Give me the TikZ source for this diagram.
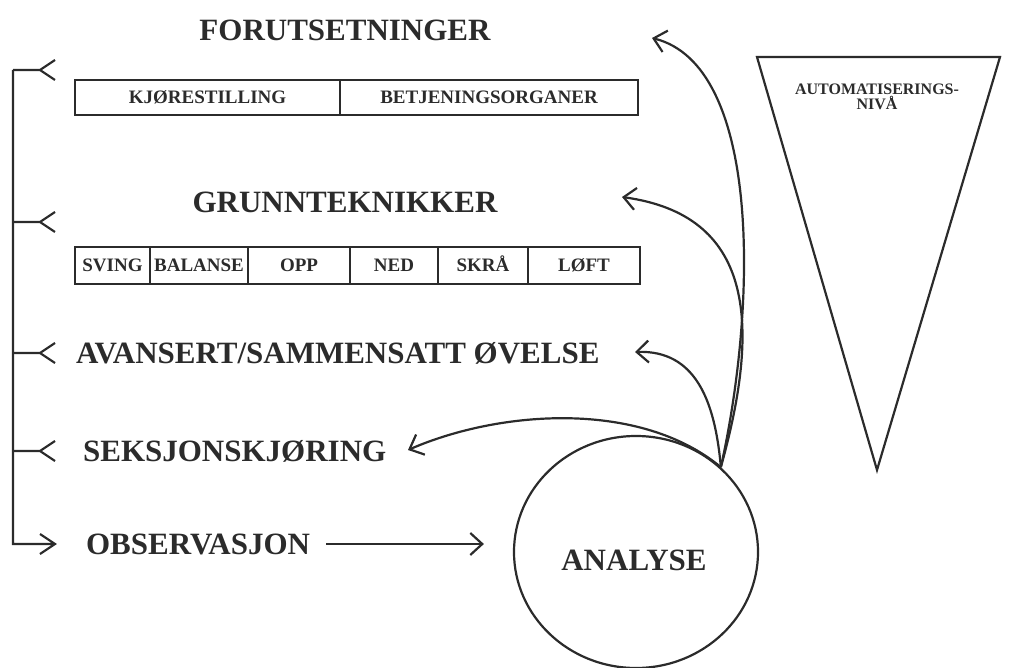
\documentclass[tikz,border=0pt]{standalone}
\usepackage{fontspec}
\setmainfont{Liberation Serif}
\usetikzlibrary{arrows.meta,shapes.geometric,calc}
\definecolor{ink}{HTML}{2B2B2B}
\begin{document}
\begin{tikzpicture}[x=1pt,y=-1pt,
  line width=2.2pt, draw=ink, text=ink,
  big/.style={font=\fontsize{31}{31}\selectfont\bfseries, inner sep=0pt, text height=20.5pt, text depth=0pt},
  cell/.style={draw=ink, line width=2.2pt, inner sep=0pt, font=\fontsize{19}{19}\selectfont\bfseries, text height=12.6pt, text depth=0pt},
  arr/.style={draw=ink, line width=2.2pt, -{Straight Barb[length=12pt,width=22pt,line width=2.2pt]}},
  chev/.style={draw=ink, line width=2.2pt, line join=miter}]
\useasboundingbox (0,0) rectangle (1015,668);

% titles and labels
\node[big] (foru) at (345,30) {FORUTSETNINGER};
\node[big] (grunn) at (345,202) {GRUNNTEKNIKKER};
\node[big, anchor=west] (avan) at (75,353) {AVANSERT/SAMMENSATT ØVELSE};
\node[big, anchor=west] (seks) at (82,451) {SEKSJONSKJØRING};
\node[big, anchor=west] (obs) at (85,544) {OBSERVASJON};

% box 1
\node[cell, minimum width=265pt, minimum height=35pt] (kjo) at (207.5,97.5) {KJØRESTILLING};
\node[cell, minimum width=298pt, minimum height=35pt] (bet) at (489,97.5) {BETJENINGSORGANER};

% box 2
\node[cell, minimum width=75pt, minimum height=37pt] (sv) at (112.5,265.5) {SVING};
\node[cell, minimum width=98pt, minimum height=37pt] (bal) at (199,265.5) {BALANSE};
\node[cell, minimum width=102pt, minimum height=37pt] (opp) at (299,265.5) {OPP};
\node[cell, minimum width=88pt, minimum height=37pt] (ned) at (394,265.5) {NED};
\node[cell, minimum width=90pt, minimum height=37pt] (skr) at (483,265.5) {SKRÅ};
\node[cell, minimum width=112pt, minimum height=37pt] (loft) at (584,265.5) {LØFT};

% analyse circle
\node[ellipse, draw=ink, line width=2.2pt, minimum width=244pt, minimum height=232pt, inner sep=0pt] (ana) at (636,552) {};
\node[big] (anat) at (634,560) {ANALYSE};

% triangle
\coordinate (tl) at (757,57);
\coordinate (tr) at (1000,57);
\coordinate (tb) at (877,470);
\draw[line join=miter] (tl) -- (tr) -- (tb) -- cycle;
\node[align=center, inner sep=0pt, font=\fontsize{16}{11}\selectfont\bfseries] (auto) at (877,97) {AUTOMATISERINGS-\\NIVÅ};

% left bracket
\coordinate (b1) at (13,70);
\coordinate (b2) at (13,222);
\coordinate (b3) at (13,353);
\coordinate (b4) at (13,451);
\coordinate (b5) at (13,544);
\draw[chev] (b1) -- (b5) -- ++(42,0) ++(-15,-10) -- ++(15,10) -- ++(-15,10);
\foreach \b in {b1,b2,b3,b4}{
  \draw[chev] (\b) -- ++(27,0) ++(15,-10) -- ++(-15,10) -- ++(15,10);
}

% observation arrow
\draw[arr, shorten <=15pt, shorten >=29pt] (obs.east) -- (obs.east -| ana.west);

% curved arrows from analyse
\coordinate (P) at (ana.45);
\coordinate (e1) at (652,38);
\coordinate (e2) at (622,197);
\coordinate (e3) at (635,352);
\coordinate (e4) at (408,450);
\draw[arr] (P) .. controls (758,300) and (760,65) .. (e1);
\draw[arr] (P) .. controls (762,320) and (752,215) .. (e2);
\draw[arr] (P) .. controls (715,400) and (695,350) .. (e3);
\draw[arr] (P) .. controls (640,400) and (500,410) .. (e4);
\end{tikzpicture}
\end{document}
